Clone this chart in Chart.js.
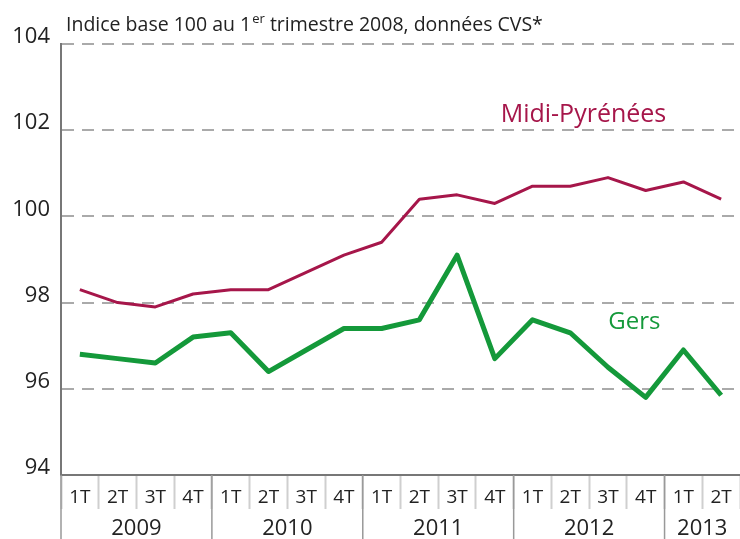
<!DOCTYPE html>
<html>
<head>
<meta charset="utf-8">
<script src="https://cdn.jsdelivr.net/npm/chart.js@4.4.0/dist/chart.umd.min.js"></script>
<style>
  html, body { margin: 0; padding: 0; background: #fff; }
</style>
</head>
<body>
<canvas id="indexChart" width="740" height="539"></canvas>
<script>
// --- DATA ---
const quarters = ['1T', '2T', '3T', '4T', '1T', '2T', '3T', '4T', '1T', '2T', '3T', '4T', '1T', '2T', '3T', '4T', '1T', '2T'];
const years = ['2009', '2010', '2011', '2012', '2013'];
const quartersPerYear = [4, 4, 4, 4, 2];
const midiPyrenees = [98.3, 98.0, 97.9, 98.2, 98.3, 98.3, 98.7, 99.1, 99.4, 100.4, 100.5, 100.3, 100.7, 100.7, 100.9, 100.6, 100.8, 100.4];
const gers = [96.8, 96.7, 96.6, 97.2, 97.3, 96.4, 96.9, 97.4, 97.4, 97.6, 99.1, 96.7, 97.6, 97.3, 96.5, 95.8, 96.9, 95.85];
const yMin = 94;
const yMax = 104;
const yStep = 2;

const FONT = "'Open Sans', 'Noto Sans', sans-serif";
const RED = '#a6164a';
const GREEN = '#14993a';

// series names drawn inside the plot (anchor in category index / value units)
const seriesLabels = [
  { text: 'Midi-Pyrénées', color: RED, at: 13.35, value: 102.35, size: 25 },
  { text: 'Gers', color: GREEN, at: 14.7, value: 97.55, size: 24 }
];

// --- custom drawing: title, year row, in-plot labels ---
const decorPlugin = {
  id: 'decor',
  afterDraw(chart) {
    const ctx = chart.ctx;
    const x = chart.scales.x;
    const y = chart.scales.y;
    const area = chart.chartArea;
    const half = (x.getPixelForValue(1) - x.getPixelForValue(0)) / 2;

    ctx.save();

    // title with superscript
    ctx.fillStyle = '#222';
    ctx.textBaseline = 'alphabetic';
    ctx.textAlign = 'left';
    let tx = area.left + 5;
    const ty = 31;
    ctx.font = `19.5px ${FONT}`;
    ctx.fillText('Indice base 100 au 1', tx, ty);
    tx += ctx.measureText('Indice base 100 au 1').width;
    ctx.font = `13px ${FONT}`;
    ctx.fillText('er', tx + 1, ty - 8);
    tx += ctx.measureText('er').width + 1;
    ctx.font = `19.5px ${FONT}`;
    ctx.fillText(' trimestre 2008, données CVS*', tx, ty);

    // year separators and labels
    let start = 0;
    ctx.strokeStyle = '#999';
    ctx.lineWidth = 1.5;
    ctx.font = `22px ${FONT}`;
    ctx.textAlign = 'center';
    ctx.textBaseline = 'middle';
    years.forEach((yr, i) => {
      const x0 = x.getPixelForValue(start) - half;
      const x1 = x.getPixelForValue(start + quartersPerYear[i] - 1) + half;
      ctx.beginPath();
      ctx.moveTo(x0, area.bottom);
      ctx.lineTo(x0, chart.height);
      ctx.stroke();
      ctx.fillText(yr, (x0 + x1) / 2, 529);
      start += quartersPerYear[i];
    });

    // series names
    seriesLabels.forEach(lbl => {
      ctx.fillStyle = lbl.color;
      ctx.font = `${lbl.size}px ${FONT}`;
      ctx.fillText(lbl.text, x.getPixelForValue(lbl.at), y.getPixelForValue(lbl.value));
    });

    ctx.restore();
  }
};

document.addEventListener('DOMContentLoaded', function () {
  new Chart(document.getElementById('indexChart').getContext('2d'), {
    type: 'line',
    data: {
      labels: quarters,
      datasets: [
        {
          label: 'Midi-Pyrénées',
          data: midiPyrenees,
          borderColor: RED,
          borderWidth: 3,
          pointRadius: 0,
          tension: 0,
          borderJoinStyle: 'round'
        },
        {
          label: 'Gers',
          data: gers,
          borderColor: GREEN,
          borderWidth: 5,
          pointRadius: 0,
          tension: 0,
          borderJoinStyle: 'round'
        }
      ]
    },
    options: {
      responsive: false,
      animation: false,
      devicePixelRatio: 1,
      layout: { padding: { top: 44, left: 0, right: 0, bottom: 0 } },
      plugins: {
        legend: { display: false },
        tooltip: { enabled: false }
      },
      scales: {
        x: {
          type: 'category',
          offset: true,
          grid: {
            offset: true,
            drawOnChartArea: false,
            drawTicks: true,
            tickLength: 34,
            tickColor: '#cfcfcf',
            tickWidth: 2
          },
          border: { display: true, color: '#777', width: 2 },
          ticks: {
            font: { family: FONT, size: 19 },
            color: '#222',
            padding: -23,
            maxRotation: 0,
            autoSkip: false
          },
          afterFit(scale) { scale.height = 64; }
        },
        y: {
          min: yMin,
          max: yMax,
          grid: {
            color: '#aaa',
            lineWidth: 2,
            drawTicks: false
          },
          border: { display: true, color: '#777', width: 2, dash: [12, 8] },
          ticks: {
            stepSize: yStep,
            font: { family: FONT, size: 22 },
            color: '#222',
            padding: 11,
            labelOffset: -7
          },
          afterFit(scale) { scale.width = 61; }
        }
      }
    },
    plugins: [decorPlugin]
  });
});
</script>
</body>
</html>
